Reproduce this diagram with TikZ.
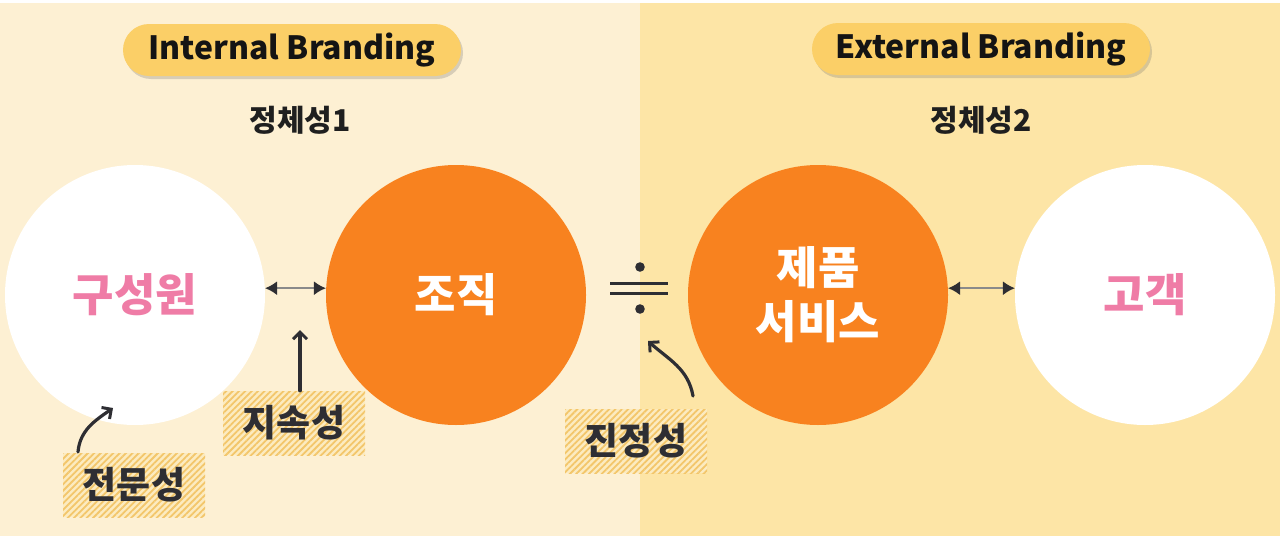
\documentclass[tikz,border=0pt]{standalone}
\usepackage{fontspec}
\setmainfont{Noto Sans CJK KR}
\usetikzlibrary{arrows.meta,shadows,patterns.meta}
\definecolor{bgleft}{HTML}{FDF0D3}
\definecolor{bgright}{HTML}{FDE5A6}
\definecolor{pillc}{HTML}{FBCF67}
\definecolor{orangec}{HTML}{F8821F}
\definecolor{pinkc}{HTML}{EF7CA6}
\definecolor{hatchc}{HTML}{F3C66A}
\definecolor{hatchbg}{HTML}{FCEBC0}
\definecolor{darkc}{HTML}{2E2E33}
\definecolor{grayline}{HTML}{8A8A8A}
\tikzset{
  pill/.style={rounded corners=26pt, fill=pillc, minimum width=338pt, minimum height=52pt,
    inner sep=0pt, font=\bfseries\fontsize{32}{36}\selectfont, text=black!92,
    drop shadow={shadow xshift=2pt, shadow yshift=-3pt, opacity=0.25, fill=black!60}},
  heading/.style={font=\bfseries\fontsize{30}{34}\selectfont, text=black!88},
  bigcirc/.style={circle, minimum size=260pt, inner sep=0pt, align=center,
    font=\bfseries\fontsize{45}{54}\selectfont},
  whitecirc/.style={bigcirc, fill=white, text=pinkc},
  orangecirc/.style={bigcirc, fill=orangec, text=white},
  hatchbox/.style={minimum width=142pt, minimum height=64pt, inner sep=0pt,
    fill=hatchbg, postaction={pattern={Lines[angle=45,distance=4.5pt,line width=1.8pt]}, pattern color=hatchc},
    font=\bfseries\fontsize{37}{42}\selectfont, text=darkc},
  dblarrow/.style={{Latex[length=12pt,width=14pt,color=darkc]}-{Latex[length=12pt,width=14pt,color=darkc]},
    line width=2pt, draw=grayline},
  curvearrow/.style={-{Straight Barb[length=7pt,width=14pt,line width=3pt]}, line width=3.2pt, draw=darkc, line cap=round}
}
\begin{document}
\begin{tikzpicture}[x=1pt,y=1pt]
\useasboundingbox (0,0) rectangle (1280,-541);
\fill[white] (0,0) rectangle (1280,-541);
\fill[bgleft] (0,-3) rectangle (640,-536);
\fill[bgright] (640,-3) rectangle (1280,-536);

\node[pill] (ib) at (292,-50) {Internal Branding};
\node[pill] (eb) at (981,-49) {External Branding};
\node[heading] (id1) at (300,-120) {정체성1};
\node[heading] (id2) at (981,-120) {정체성2};

\node[whitecirc] (gs) at (135,-295) {구성원};
\node[orangecirc] (jj) at (456,-295) {조직};
\node[orangecirc] (jp) at (818,-295) {제품\\서비스};
\node[whitecirc] (gg) at (1145,-295) {고객};

\draw[dblarrow] (gs.3) -- (jj.177);
\draw[dblarrow] (jp.3) -- (gg.177);

% approximately-equal symbol
\draw[darkc, line width=3pt] (610,-283) -- (668,-283);
\draw[darkc, line width=3pt] (610,-293) -- (668,-293);
\fill[darkc] (640,-267) circle (4.8pt);
\fill[darkc] (640,-309) circle (4.8pt);

\node[hatchbox] (js) at (294,-423) {지속성};
\node[hatchbox] (jm) at (134,-485) {전문성};
\node[hatchbox] (jjs) at (636,-441) {진정성};

\coordinate (t1) at (300,-330);
\coordinate (t2) at (113,-408);
\coordinate (t3) at (648,-341);
\draw[curvearrow] (js.north -| t1) -- (t1);
\draw[curvearrow] (78,-452) to[out=85,in=215] (t2);
\draw[curvearrow] (693,-396) to[out=100,in=-42] (t3);
\end{tikzpicture}
\end{document}
